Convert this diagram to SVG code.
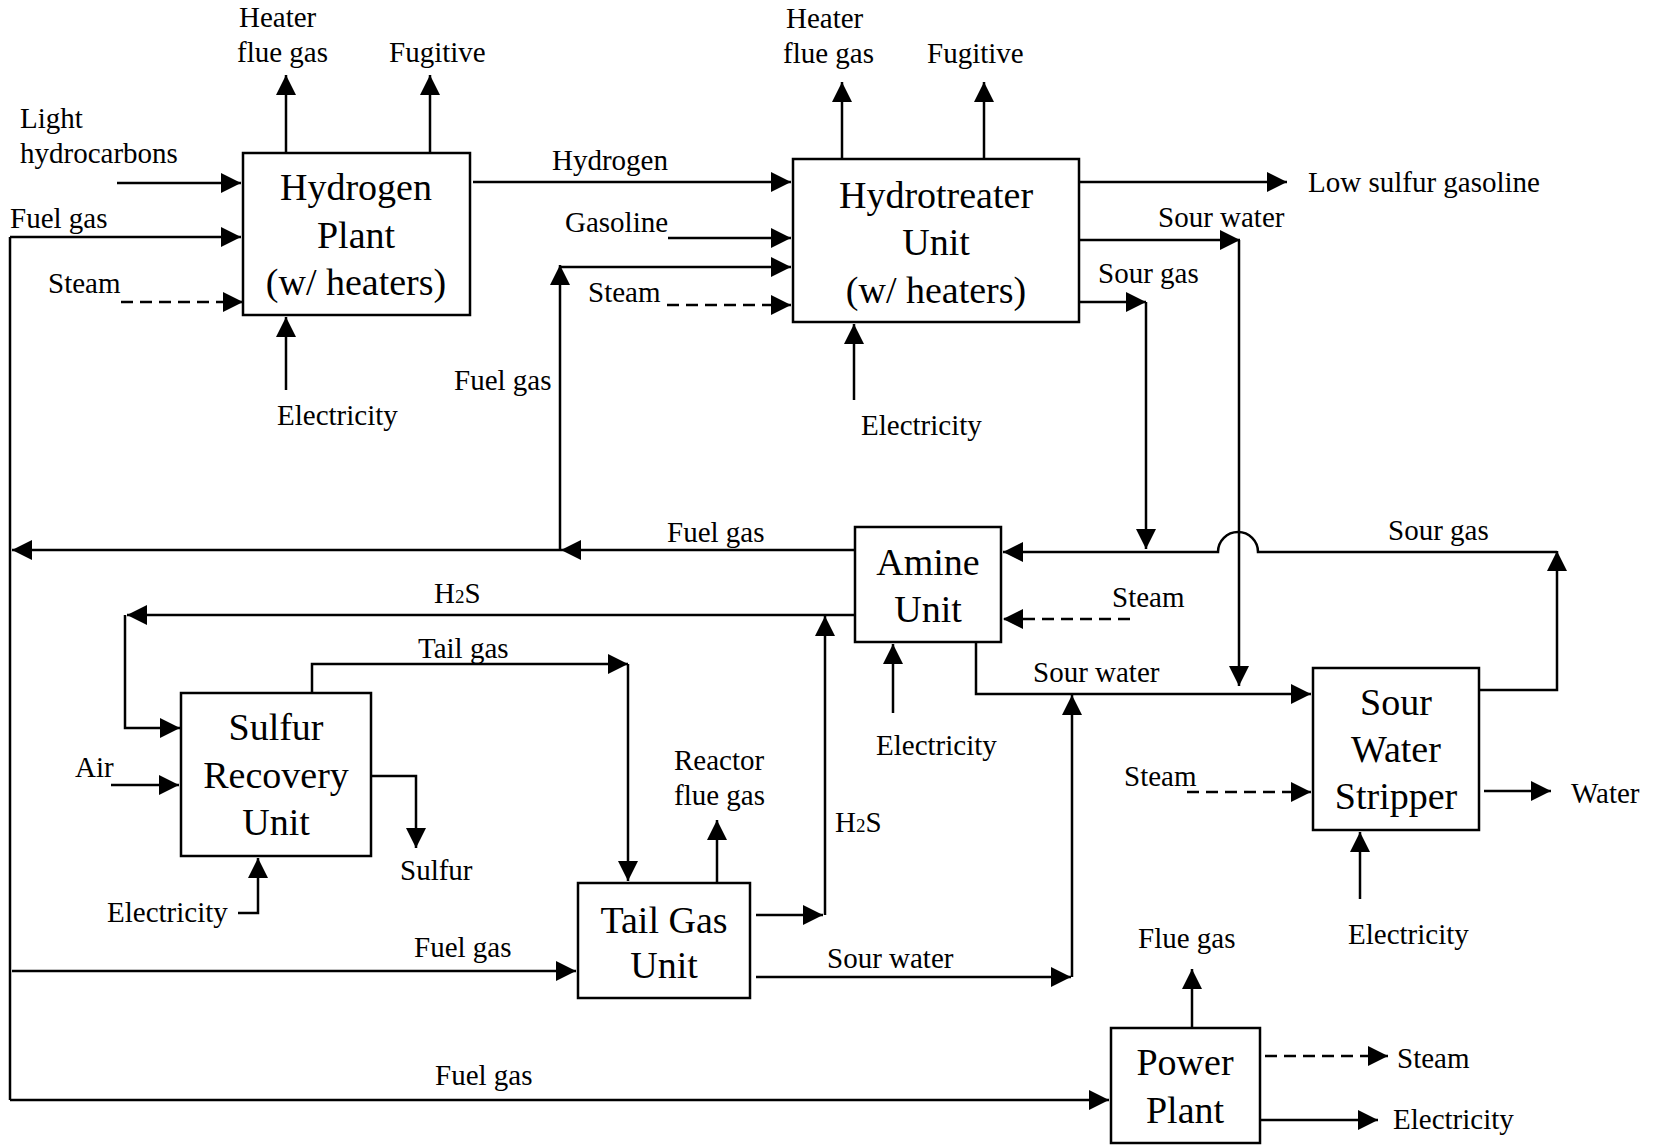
<svg xmlns="http://www.w3.org/2000/svg" width="1654" height="1146" viewBox="0 0 1654 1146">
<defs>
<marker id="arr" markerUnits="userSpaceOnUse" markerWidth="20" markerHeight="20" refX="20" refY="10" orient="auto" viewBox="0 0 20 20">
<path d="M0,0 L20,10 L0,20 z" fill="#000" stroke="none"/>
</marker>
</defs>
<style>
.box{fill:#fff;stroke:#000;stroke-width:2.5}
.nt{font-family:"Liberation Serif","Times New Roman",serif;font-size:38px;text-anchor:middle;fill:#000}
.lb{font-family:"Liberation Serif","Times New Roman",serif;font-size:29px;fill:#000}
.ln{fill:none;stroke:#000;stroke-width:2.5}
.ar{marker-end:url(#arr)}
.ds{stroke-dasharray:12,7}
</style>
<rect width="1654" height="1146" fill="#fff"/>
<g id="connectors">
<path class="ln ar" d="M286,153 V75"/>
<path class="ln ar" d="M430,153 V75"/>
<path class="ln ar" d="M117,183 H241"/>
<path class="ln" d="M10,237 V1100"/>
<path class="ln ar" d="M10,237 H241"/>
<path class="ln ar ds" d="M121,302 H243"/>
<path class="ln ar" d="M286,390 V317"/>
<path class="ln ar" d="M473,182 H791"/>
<path class="ln ar" d="M842,159 V82"/>
<path class="ln ar" d="M984,159 V82"/>
<path class="ln ar" d="M668,238 H791"/>
<path class="ln ar" d="M560,550 V265"/>
<path class="ln ar" d="M560,267 H791"/>
<path class="ln ar ds" d="M667,305 H791"/>
<path class="ln ar" d="M854,400 V324"/>
<path class="ln ar" d="M1079,182 H1287"/>
<path class="ln ar" d="M1079,240 H1240"/>
<path class="ln ar" d="M1239,240 V686"/>
<path class="ln ar" d="M1079,302 H1146"/>
<path class="ln ar" d="M1146,302 V549"/>
<path class="ln ar" d="M1479,690 H1557 V551"/>
<path class="ln ar" d="M1557,552 H1258 A20,20 0 0 0 1218,552 H1003"/>
<path class="ln ar" d="M855,550 H561"/>
<path class="ln ar" d="M561,550 H12"/>
<path class="ln ar" d="M855,615 H127"/>
<path class="ln ar" d="M125,615 V728 H180"/>
<path class="ln ar" d="M756,915 H823"/>
<path class="ln ar" d="M825,915 V616"/>
<path class="ln ar ds" d="M1130,619 H1003"/>
<path class="ln ar" d="M893,713 V644"/>
<path class="ln ar" d="M976,642 V694 H1311"/>
<path class="ln ar" d="M756,977 H1071"/>
<path class="ln ar" d="M1072,977 V695"/>
<path class="ln ar" d="M312,693 V664 H628"/>
<path class="ln ar" d="M628,664 V881"/>
<path class="ln ar" d="M717,883 V820"/>
<path class="ln ar" d="M12,971 H576"/>
<path class="ln ar" d="M111,785 H179"/>
<path class="ln ar" d="M371,776 H416 V848"/>
<path class="ln ar" d="M238,913 H258 V858"/>
<path class="ln ar ds" d="M1187,792 H1311"/>
<path class="ln ar" d="M1484,791 H1551"/>
<path class="ln ar" d="M1360,899 V832"/>
<path class="ln ar" d="M1192,1028 V969"/>
<path class="ln ar ds" d="M1265,1056 H1388"/>
<path class="ln ar" d="M1258,1120 H1378"/>
<path class="ln ar" d="M10,1100 H1109"/>
</g>
<g id="labels">
<text class="lb" x="239" y="27">Heater</text>
<text class="lb" x="237" y="62">flue gas</text>
<text class="lb" x="389" y="62">Fugitive</text>
<text class="lb" x="20" y="128">Light</text>
<text class="lb" x="20" y="163">hydrocarbons</text>
<text class="lb" x="10" y="228">Fuel gas</text>
<text class="lb" x="48" y="293">Steam</text>
<text class="lb" x="277" y="425">Electricity</text>
<text class="lb" x="552" y="170">Hydrogen</text>
<text class="lb" x="786" y="28">Heater</text>
<text class="lb" x="783" y="63">flue gas</text>
<text class="lb" x="927" y="63">Fugitive</text>
<text class="lb" x="565" y="232">Gasoline</text>
<text class="lb" x="588" y="302">Steam</text>
<text class="lb" x="454" y="390">Fuel gas</text>
<text class="lb" x="861" y="435">Electricity</text>
<text class="lb" x="1308" y="192">Low sulfur gasoline</text>
<text class="lb" x="1158" y="227">Sour water</text>
<text class="lb" x="1098" y="283">Sour gas</text>
<text class="lb" x="1388" y="540">Sour gas</text>
<text class="lb" x="667" y="542">Fuel gas</text>
<text class="lb" x="1112" y="607">Steam</text>
<text class="lb" x="434" y="603">H<tspan font-size="19">2</tspan>S</text>
<text class="lb" x="418" y="658">Tail gas</text>
<text class="lb" x="1033" y="682">Sour water</text>
<text class="lb" x="876" y="755">Electricity</text>
<text class="lb" x="674" y="770">Reactor</text>
<text class="lb" x="674" y="805">flue gas</text>
<text class="lb" x="835" y="832">H<tspan font-size="19">2</tspan>S</text>
<text class="lb" x="75" y="777">Air</text>
<text class="lb" x="400" y="880">Sulfur</text>
<text class="lb" x="107" y="922">Electricity</text>
<text class="lb" x="414" y="957">Fuel gas</text>
<text class="lb" x="827" y="968">Sour water</text>
<text class="lb" x="1124" y="786">Steam</text>
<text class="lb" x="1571" y="803">Water</text>
<text class="lb" x="1348" y="944">Electricity</text>
<text class="lb" x="1138" y="948">Flue gas</text>
<text class="lb" x="1397" y="1068">Steam</text>
<text class="lb" x="1393" y="1129">Electricity</text>
<text class="lb" x="435" y="1085">Fuel gas</text>
</g>
<g id="hydrogen-plant">
<rect class="box" x="243" y="153" width="227" height="162"/>
<text class="nt" x="356" y="200">Hydrogen</text>
<text class="nt" x="356" y="248">Plant</text>
<text class="nt" x="356" y="295">(w/ heaters)</text>
</g>
<g id="hydrotreater-unit">
<rect class="box" x="793" y="159" width="286" height="163"/>
<text class="nt" x="936" y="208">Hydrotreater</text>
<text class="nt" x="936" y="255">Unit</text>
<text class="nt" x="936" y="303">(w/ heaters)</text>
</g>
<g id="amine-unit">
<rect class="box" x="855" y="527" width="146" height="115"/>
<text class="nt" x="928" y="575">Amine</text>
<text class="nt" x="928" y="622">Unit</text>
</g>
<g id="sulfur-recovery-unit">
<rect class="box" x="181" y="693" width="190" height="163"/>
<text class="nt" x="276" y="740">Sulfur</text>
<text class="nt" x="276" y="788">Recovery</text>
<text class="nt" x="276" y="835">Unit</text>
</g>
<g id="tail-gas-unit">
<rect class="box" x="578" y="883" width="172" height="115"/>
<text class="nt" x="664" y="933">Tail Gas</text>
<text class="nt" x="664" y="978">Unit</text>
</g>
<g id="sour-water-stripper">
<rect class="box" x="1313" y="668" width="166" height="162"/>
<text class="nt" x="1396" y="715">Sour</text>
<text class="nt" x="1396" y="762">Water</text>
<text class="nt" x="1396" y="809">Stripper</text>
</g>
<g id="power-plant">
<rect class="box" x="1111" y="1028" width="149" height="115"/>
<text class="nt" x="1185" y="1075">Power</text>
<text class="nt" x="1185" y="1123">Plant</text>
</g>
</svg>
